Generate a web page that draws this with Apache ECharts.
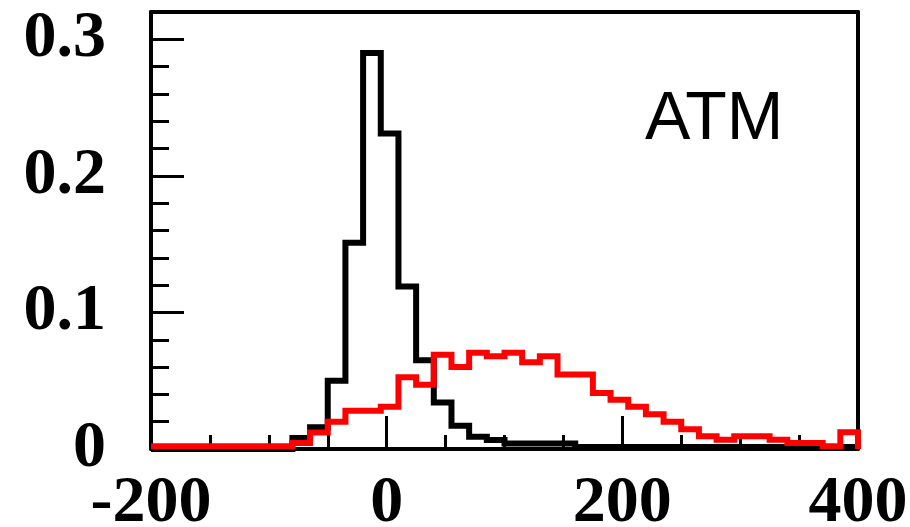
<!DOCTYPE html>
<html>
<head>
<meta charset="utf-8">
<script src="https://cdn.jsdelivr.net/npm/echarts@6/dist/echarts.min.js"></script>
<style>html,body{margin:0;padding:0;background:#fff}#c{width:910px;height:527px}</style>
</head>
<body>
<div id="c"></div>
<script>
// Histogram bin edges (40 bins of width 15 from -200 to 400)
var binEdges = [-200,-185,-170,-155,-140,-125,-110,-95,-80,-65,-50,-35,-20,-5,10,25,40,55,70,85,100,115,130,145,160,175,190,205,220,235,250,265,280,295,310,325,340,355,370,385,400];
// Black histogram contents per bin
var blackValues = [0,0,0,0,0,0,0,0,0.008,0.016,0.050,0.151,0.290,0.231,0.119,0.065,0.034,0.017,0.009,0.0066,0.004,0.004,0.004,0.004,0.0015,0.0015,0.0015,0.0015,0.0015,0.0015,0.0015,0.0015,0.0015,0.0015,0.0015,0.0015,0.0015,0.0015,0.0015,0.0015];
// Red histogram contents per bin
var redValues = [0.002,0.002,0.002,0.002,0.002,0.002,0.002,0.002,0.0044,0.012,0.020,0.028,0.028,0.031,0.0525,0.047,0.069,0.060,0.0705,0.068,0.0705,0.0635,0.068,0.0546,0.0546,0.041,0.036,0.031,0.0255,0.020,0.0145,0.0093,0.0068,0.0093,0.0093,0.0068,0.0044,0.0044,0.002,0.0123];
var xTickLabels = ['-200','0','200','400'];
var yTickLabels = ['0','0.1','0.2','0.3'];
var annotation = 'ATM';

function histData(vals){
  var d = [];
  for (var i = 0; i < vals.length; i++) d.push([binEdges[i], vals[i]]);
  d.push([binEdges[binEdges.length-1], vals[vals.length-1]]);
  d.push([binEdges[binEdges.length-1], 0]);
  return d;
}

var labelFont = {fontFamily:'Liberation Serif', fontWeight:'bold', fontSize:66, color:'#000'};
var chart = echarts.init(document.getElementById('c'), null, {renderer:'canvas'});
chart.setOption({
  animation:false,
  backgroundColor:'#fff',
  grid:{left:151, right:52, top:12, bottom:78, containLabel:false, outerBoundsMode:'none'},
  xAxis:[{
    type:'value', position:'bottom', min:-200, max:400, interval:200,
    axisLine:{show:true, onZero:false, lineStyle:{color:'#000', width:4}},
    axisTick:{show:true, inside:true, length:33, lineStyle:{color:'#000', width:3}},
    minorTick:{show:true, splitNumber:4, length:14, lineStyle:{color:'#000', width:3}},
    splitLine:{show:false}, minorSplitLine:{show:false},
    axisLabel:Object.assign({margin:22, formatter:function(v){var i=[-200,0,200,400].indexOf(v);return i>=0?xTickLabels[i]:'';}}, labelFont)
  },{
    type:'value', position:'top', min:-200, max:400,
    axisLine:{show:true, onZero:false, lineStyle:{color:'#000', width:4}},
    axisTick:{show:false}, axisLabel:{show:false}, splitLine:{show:false}
  }],
  yAxis:[{
    type:'value', position:'left', min:0, max:0.32, interval:0.1,
    axisLine:{show:true, onZero:false, lineStyle:{color:'#000', width:4}},
    axisTick:{show:true, inside:true, length:33, lineStyle:{color:'#000', width:3}},
    splitLine:{show:false},
    axisLabel:Object.assign({margin:45, showMaxLabel:false, formatter:function(v){var i=Math.round(v*10);return (Math.abs(v*10-i)<1e-6 && i<yTickLabels.length)?yTickLabels[i]:'';}}, labelFont)
  },{
    type:'value', position:'left', offset:0, min:0, max:0.32, interval:0.02,
    axisLine:{show:false, onZero:false},
    axisTick:{show:true, inside:true, length:18, lineStyle:{color:'#000', width:3}},
    axisLabel:{show:false}, splitLine:{show:false}
  },{
    type:'value', position:'right', min:0, max:0.32,
    axisLine:{show:true, onZero:false, lineStyle:{color:'#000', width:4}},
    axisTick:{show:false}, axisLabel:{show:false}, splitLine:{show:false}
  }],
  series:[{
    type:'line', step:'end', symbol:'none', xAxisIndex:0, yAxisIndex:0,
    data:histData(blackValues), clip:false,
    lineStyle:{color:'#000', width:6, join:'miter'}, z:3
  },{
    type:'line', step:'end', symbol:'none', xAxisIndex:0, yAxisIndex:0,
    data:histData(redValues), clip:false,
    lineStyle:{color:'#ff0000', width:6, join:'miter'}, z:4
  }],
  graphic:[{
    type:'text', left:645, top:86,
    style:{text:annotation, fontFamily:'Liberation Sans', fontSize:68, fill:'#000'}
  }]
});
</script>
</body>
</html>
